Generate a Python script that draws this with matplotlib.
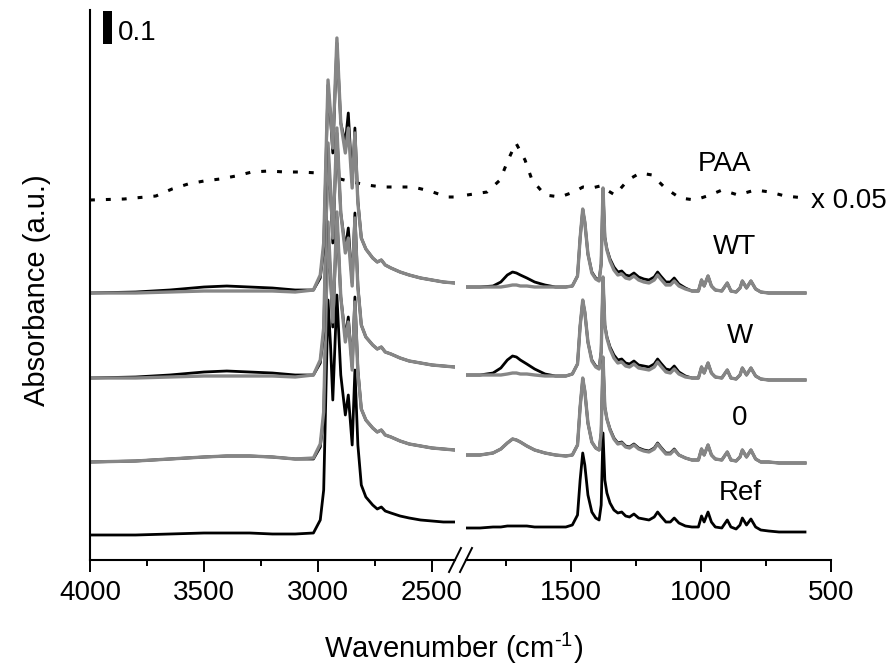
import numpy as np
import matplotlib
matplotlib.use("Agg")
import matplotlib.pyplot as plt
from matplotlib.lines import Line2D

plt.rcParams['font.family'] = ['Liberation Sans', 'DejaVu Sans']
plt.rcParams['mathtext.fontset'] = 'custom'
plt.rcParams['mathtext.rm'] = 'Liberation Sans'
plt.rcParams['mathtext.it'] = 'Liberation Sans:italic'

# y values are in display units where 33 units = 0.1 absorbance (a.u.)
UNITS_PER_01 = 33

# ---------- high wavenumber segment (4000 - 2400 cm-1) ----------
L_WN = [4000, 3800, 3650, 3500, 3400, 3300, 3200, 3100, 3020, 2990, 2975, 2956,
        2945, 2935, 2917, 2900, 2880, 2867, 2850, 2838, 2825, 2810, 2790, 2760,
        2740, 2722, 2705, 2680, 2640, 2600, 2550, 2500, 2450, 2400]

ref_L = [0, 0, 1, 2, 2, 2, 1, 1, 2, 15, 45, 235, 190, 135, 240, 160, 120, 140,
         90, 165, 90, 50, 38, 30, 26, 28, 24, 22, 19, 17, 15, 14, 13, 13]
s0_black_L = [0, 1, 3, 5, 6, 6, 5, 3, 3, 15, 45, 230, 185, 135, 245, 165, 125, 145,
              95, 165, 92, 53, 42, 34, 30, 32, 27, 25, 21, 18, 16, 14, 13, 12]
s0_gray_L = [0, 1, 3, 5, 6, 6, 5, 3, 4, 18, 50, 240, 190, 140, 250, 165, 120, 140,
             92, 160, 90, 53, 42, 34, 30, 32, 27, 25, 21, 18, 16, 14, 13, 12]
w_black_L = [0, 1, 3, 6, 7, 6, 5, 3, 3, 15, 45, 225, 185, 135, 245, 165, 130, 150,
             95, 165, 92, 53, 41, 33, 29, 31, 26, 24, 20, 17, 15, 13, 12, 11]
w_gray_L = [0, 0, 1, 2, 2, 2, 2, 1, 3, 18, 50, 235, 190, 140, 250, 165, 125, 140,
            92, 160, 90, 53, 41, 33, 29, 31, 26, 24, 20, 17, 15, 13, 12, 11]
wt_black_L = [0, 1, 3, 6, 7, 6, 5, 3, 3, 15, 45, 208, 175, 140, 250, 170, 150, 180,
              110, 165, 92, 55, 44, 35, 31, 33, 28, 25, 21, 18, 15, 13, 11, 10]
wt_gray_L = [0, 0, 1, 2, 2, 2, 2, 1, 3, 18, 50, 213, 180, 145, 255, 170, 140, 165,
             105, 160, 90, 55, 44, 35, 31, 33, 28, 25, 21, 18, 15, 13, 11, 10]

# ---------- fingerprint segment (1900 - 600 cm-1) ----------
R_WN = [1900, 1850, 1800, 1770, 1745, 1725, 1710, 1695, 1670, 1640, 1600, 1560, 1520,
        1495, 1475, 1465, 1455, 1447, 1435, 1420, 1405, 1392, 1384, 1377,
        1370, 1362, 1350, 1335, 1320, 1305, 1290, 1275, 1258, 1240,
        1220, 1200, 1180, 1167, 1155, 1135, 1118, 1103, 1085, 1060, 1035, 1010,
        998, 988, 973, 960, 945, 920, 899, 885, 865, 850,
        841, 825, 808, 790, 770, 740, 700, 650, 600]

ref_R = [7, 7, 8, 8, 9, 9, 9, 9, 9, 8, 8, 8, 8,
         10, 20, 55, 82, 70, 40, 23, 17, 15, 30, 102,
         55, 42, 32, 25, 22, 23, 19, 18, 21, 17,
         16, 15, 18, 23, 19, 13, 13, 17, 12, 9, 8, 8,
         19, 13, 23, 13, 8, 7, 15, 8, 6, 10,
         17, 10, 16, 8, 5, 4, 3, 3, 3]
s0_black_R = [7, 7, 9, 13, 19, 23, 22, 20, 16, 12, 9, 7, 6,
              7, 17, 55, 83, 71, 39, 20, 14, 12, 29, 103,
              55, 43, 33, 24, 19, 20, 16, 15, 18, 14,
              12, 11, 14, 19, 15, 9, 9, 13, 7, 4, 2, 2,
              13, 7, 17, 7, 3, 2, 10, 2, 1, 5,
              12, 5, 12, 3, 0, 0, -1, -1, -1]
s0_gray_R = [7, 7, 9, 13, 19, 23, 22, 20, 16, 12, 9, 7, 6,
             7, 17, 55, 84, 71, 39, 20, 14, 12, 29, 105,
             55, 43, 32, 23, 18, 19, 15, 14, 17, 13,
             11, 10, 13, 18, 14, 8, 8, 12, 7, 4, 2, 2,
             13, 7, 17, 7, 3, 2, 10, 2, 1, 5,
             12, 5, 12, 3, 0, 0, -1, -1, -1]
w_black_R = [3, 3, 5, 10, 18, 22, 21, 18, 14, 9, 4, 2, 2,
             4, 14, 52, 77, 66, 36, 18, 12, 10, 26, 100,
             53, 41, 31, 23, 18, 19, 15, 14, 17, 13,
             12, 11, 14, 19, 15, 9, 8, 12, 6, 2, 0, 0,
             11, 5, 15, 5, 1, 0, 8, 0, -1, 3,
             10, 3, 10, 2, -1, -2, -2, -2, -2]
w_gray_R = [3, 3, 3, 3, 4, 5, 5, 4, 4, 3, 2, 2, 2,
            4, 14, 52, 78, 66, 36, 17, 11, 9, 26, 101,
            52, 40, 29, 20, 15, 16, 12, 11, 14, 10,
            9, 8, 11, 16, 12, 6, 5, 9, 4, 1, 0, 0,
            11, 5, 15, 5, 1, 0, 8, 0, -1, 3,
            10, 3, 10, 2, -1, -2, -2, -2, -2]
wt_black_R = [6, 6, 7, 11, 18, 21, 20, 18, 15, 11, 8, 6, 6,
              7, 17, 55, 83, 71, 39, 21, 15, 13, 29, 104,
              56, 44, 34, 26, 21, 22, 18, 17, 20, 16,
              14, 13, 16, 21, 17, 11, 11, 15, 9, 5, 2, 2,
              13, 7, 17, 7, 3, 2, 10, 2, 1, 5,
              12, 5, 12, 4, 1, 0, 0, 0, 0]
wt_gray_R = [6, 6, 6, 6, 7, 8, 8, 7, 7, 6, 6, 6, 6,
             7, 17, 55, 84, 71, 39, 20, 14, 12, 29, 105,
             55, 43, 32, 23, 18, 19, 15, 14, 17, 13,
             11, 10, 13, 18, 14, 8, 8, 12, 7, 4, 2, 2,
             13, 7, 17, 7, 3, 2, 10, 2, 1, 5,
             12, 5, 12, 4, 1, 0, 0, 0, 0]

# PAA reference (shown x 0.05), own grids
PAA_L_WN = [4000, 3850, 3711, 3640, 3570, 3500, 3430, 3360, 3290, 3215, 3145, 3075,
            3000, 2920, 2850, 2785, 2719, 2649, 2583, 2509, 2434, 2400]
paa_L = [0, 1, 4, 11, 16, 19, 21, 24, 28, 29, 28, 28, 27, 22, 18, 15, 13, 13, 13, 9, 3, 3]
PAA_R_WN = [1900, 1823, 1773, 1742, 1712, 1677, 1650, 1600, 1542, 1490, 1454, 1420,
            1388, 1331, 1281, 1235, 1188, 1138, 1081, 1023, 965, 919, 858, 792,
            735, 677, 600]
paa_R = [5, 8, 20, 40, 57, 40, 20, 5, 3, 8, 13, 12, 14, 5, 20, 27, 25, 12, 2, 0,
         5, 10, 5, 10, 8, 4, 2]

# vertical stacking offsets of each sample
offsets = {"Ref": 25, "0": 98, "W": 182, "WT": 267, "PAA": 360}

BLACK = "#000000"
GRAY = "#868686"

W, H = 896, 668


def fx(x):
    return x / W


def fy(y):
    return 1 - y / H


fig = plt.figure(figsize=(W / 100, H / 100), dpi=100)
ax_l = fig.add_axes([fx(90), fy(560), 365 / W, 550 / H])
ax_r = fig.add_axes([fx(466), fy(560), 365 / W, 550 / H])

for ax in (ax_l, ax_r):
    ax.set_ylim(0, 550)
    ax.spines['top'].set_visible(False)
    ax.spines['right'].set_visible(False)
    ax.spines['bottom'].set_linewidth(1.5)
    ax.spines['left'].set_linewidth(1.5)
    ax.set_yticks([])
    ax.tick_params(axis='x', which='major', direction='out', length=8.5, width=1.4,
                   labelsize=20, pad=6)
    ax.tick_params(axis='x', which='minor', direction='out', length=4.3, width=1.4)
    ax.patch.set_alpha(0)
ax_r.spines['left'].set_visible(False)

ax_l.set_xlim(4000, 2399)
ax_l.set_xticks([4000, 3500, 3000, 2500])
ax_l.set_xticks([3750, 3250, 2750], minor=True)
ax_r.set_xlim(1904, 500)
ax_r.set_xticks([1500, 1000, 500])
ax_r.set_xticks([1750, 1250, 750], minor=True)

# PAA dotted, drawn first so the CH peaks cover it
dots = dict(color=BLACK, lw=2.2, linestyle=(0, (1.6, 3.6)), dash_capstyle='butt')
ax_l.plot(PAA_L_WN, np.array(paa_L) + offsets["PAA"], **dots)
ax_r.plot(PAA_R_WN, np.array(paa_R) + offsets["PAA"], **dots)

series = [
    ("Ref", ref_L, ref_R, BLACK, 2.0),
    ("0", s0_black_L, s0_black_R, BLACK, 2.0),
    ("0", s0_gray_L, s0_gray_R, GRAY, 2.4),
    ("W", w_black_L, w_black_R, BLACK, 2.0),
    ("W", w_gray_L, w_gray_R, GRAY, 2.4),
    ("WT", wt_black_L, wt_black_R, BLACK, 2.0),
    ("WT", wt_gray_L, wt_gray_R, GRAY, 2.4),
]
for name, yl, yr, col, lw in series:
    off = offsets[name]
    ax_l.plot(L_WN, np.array(yl) + off, color=col, lw=lw, solid_joinstyle='round')
    ax_r.plot(R_WN, np.array(yr) + off, color=col, lw=lw, solid_joinstyle='round')

# scale bar: 0.1 absorbance
ax_l.bar(3923, UNITS_PER_01, bottom=516, width=42, color=BLACK)
ax_l.text(3877, 520, "0.1", fontsize=20, ha='left', va='baseline')

# axis break marks
for x0, x1 in [(449, 461), (460, 472)]:
    fig.add_artist(Line2D([fx(x0), fx(x1)], [fy(572), fy(548)],
                          transform=fig.transFigure, color=BLACK, lw=1.4))

# sample labels
labels = [("PAA", 724, 171), ("WT", 734, 254), ("W", 740, 343), ("0", 740, 425),
          ("Ref", 740, 500)]
for txt, x, y in labels:
    fig.text(fx(x), fy(y), txt, fontsize=20, ha='center', va='baseline')
fig.text(fx(811), fy(208), "x 0.05", fontsize=20, ha='left', va='baseline')

fig.text(fx(454), fy(658), r"Wavenumber (cm$^{\text{-1}}$)", fontsize=21,
         ha='center', va='baseline')
fig.text(fx(37), fy(290), "Absorbance (a.u.)", fontsize=21, rotation=90,
         ha='center', va='center')

fig.savefig("out.png", dpi=100)
